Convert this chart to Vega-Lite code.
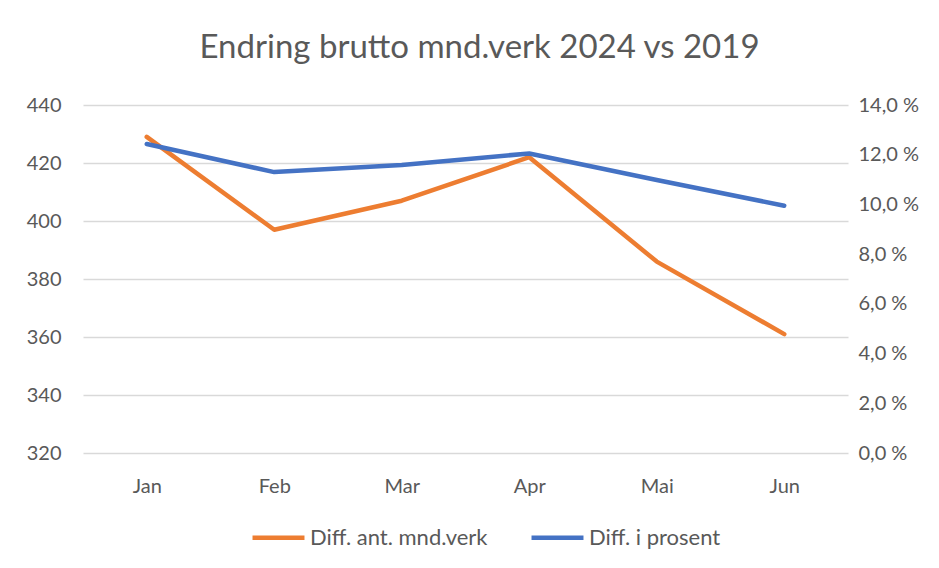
{
  "$schema": "https://vega.github.io/schema/vega-lite/v6.json",
  "autosize": {"type": "none"},
  "width": 765,
  "height": 348,
  "padding": {"left": 83, "top": 105, "right": 91, "bottom": 115},
  "background": "white",
  "config": {
    "font": "Lato",
    "view": {"stroke": null},
    "axis": {"labelFont": "Lato", "labelColor": "#595959", "labelFontSize": 20, "domain": false, "ticks": false}
  },
  "title": {
    "text": "Endring brutto mnd.verk 2024 vs 2019",
    "font": "Lato",
    "fontSize": 33,
    "fontWeight": "normal",
    "color": "#595959",
    "offset": 30,
    "dx": 14
  },
  "data": {
    "values": [
      {"mnd": "Jan", "antall": 429, "prosent": 12.43},
      {"mnd": "Feb", "antall": 397, "prosent": 11.3},
      {"mnd": "Mar", "antall": 407, "prosent": 11.59},
      {"mnd": "Apr", "antall": 422, "prosent": 12.05},
      {"mnd": "Mai", "antall": 386, "prosent": 10.98},
      {"mnd": "Jun", "antall": 361, "prosent": 9.95}
    ]
  },
  "encoding": {
    "x": {
      "field": "mnd", "type": "nominal", "sort": null,
      "scale": {"type": "point", "padding": 0.5},
      "axis": {"title": null, "labelAngle": 0, "labelPadding": 23, "grid": false}
    }
  },
  "layer": [
    {
      "mark": {"type": "line", "strokeWidth": 4.5, "strokeCap": "round", "strokeJoin": "round"},
      "encoding": {
        "y": {
          "field": "antall", "type": "quantitative",
          "scale": {"domain": [320, 440], "nice": false, "zero": false},
          "axis": {"title": null, "values": [320, 340, 360, 380, 400, 420, 440], "grid": true, "gridColor": "#d9d9d9", "gridWidth": 1.3, "labelPadding": 22}
        },
        "color": {
          "datum": "Diff. ant. mnd.verk",
          "type": "nominal",
          "scale": {"domain": ["Diff. ant. mnd.verk", "Diff. i prosent"], "range": ["#ED7D31", "#4472C4"]},
          "legend": {
            "title": null,
            "orient": "none",
            "legendX": 167,
            "legendY": 404,
            "direction": "horizontal",
            "symbolType": "stroke",
            "symbolSize": 2700,
            "symbolStrokeWidth": 4.5,
            "labelFont": "Lato",
            "labelFontSize": 22,
            "labelLimit": 400,
            "labelColor": "#595959",
            "labelOffset": 3,
            "columnPadding": 34
          }
        }
      }
    },
    {
      "mark": {"type": "line", "strokeWidth": 4.5, "strokeCap": "round", "strokeJoin": "round"},
      "encoding": {
        "y": {
          "field": "prosent", "type": "quantitative",
          "scale": {"domain": [0, 14], "nice": false},
          "axis": {"title": null, "orient": "right", "values": [0, 2, 4, 6, 8, 10, 12, 14], "grid": false, "labelPadding": 10,
            "labelExpr": "replace(format(datum.value, '.1f'), '.', ',') + ' %'"}
        },
        "color": {"datum": "Diff. i prosent", "type": "nominal"}
      }
    }
  ],
  "resolve": {"scale": {"y": "independent"}}
}
